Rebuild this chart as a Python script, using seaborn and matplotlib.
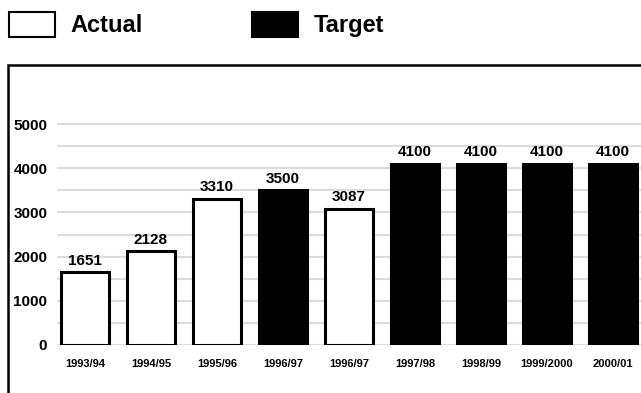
import matplotlib
matplotlib.use("Agg")
import matplotlib.pyplot as plt
import matplotlib.patches as mpatches
import pandas as pd
import seaborn as sns

# Yearly figures: actual outturn vs. target
years = ["1993/94", "1994/95", "1995/96", "1996/97", "1996/97",
         "1997/98", "1998/99", "1999/2000", "2000/01"]
values = [1651, 2128, 3310, 3500, 3087, 4100, 4100, 4100, 4100]
kinds = ["Actual", "Actual", "Actual", "Target", "Actual",
         "Target", "Target", "Target", "Target"]
y_ticks = [0, 1000, 2000, 3000, 4000, 5000]

sns.set_theme(style="white")
plt.rcParams["font.family"] = ["Liberation Sans", "DejaVu Sans"]
plt.rcParams["font.weight"] = "bold"
plt.rcParams["text.color"] = "black"
plt.rcParams["xtick.color"] = "black"
plt.rcParams["ytick.color"] = "black"

df = pd.DataFrame({"slot": [str(i) for i in range(len(years))],
                   "year": years, "value": values, "kind": kinds})

W, H = 641, 393
fig = plt.figure(figsize=(W / 100, H / 100), dpi=100)

# axes geometry in pixels
ax_left, ax_bottom_px, ax_top_px = 57, 345, 102
ax_right_px = 652.6
ax = fig.add_axes([ax_left / W, (H - ax_bottom_px) / H,
                   (ax_right_px - ax_left) / W, (ax_bottom_px - ax_top_px) / H])

palette = {"Actual": "white", "Target": "black"}
sns.barplot(data=df, x="slot", y="value", hue="kind", palette=palette,
            dodge=False, width=0.73, edgecolor="black", linewidth=2.2,
            legend=False, ax=ax, zorder=3)

ax.set_xlim(-0.424, 8.6)
ax.set_ylim(0, 5500)
ax.set_yticks(y_ticks)
ax.set_yticklabels([str(t) for t in y_ticks], fontsize=11, fontweight="bold")
ax.set_xticks(range(len(years)))
ax.set_xticklabels(years, fontsize=8, fontweight="bold")
ax.tick_params(axis="y", length=0, pad=7, labelcolor="black")
ax.tick_params(axis="x", length=0, pad=10, labelcolor="black")
ax.set_xlabel("")
ax.set_ylabel("")

# light horizontal rules every 500
for yv in range(0, 5001, 500):
    ax.axhline(yv, color="#dcdcdc", lw=1.5, zorder=1)

for s in ax.spines.values():
    s.set_visible(False)

# value labels above each bar
for i, v in enumerate(values):
    ax.text(i, v + 100, str(v), ha="center", va="bottom",
            fontsize=11, fontweight="bold", color="black")

# outer frame (left and top edges visible)
frame = mpatches.Rectangle((8 / W, -0.2), 1.2, (H - 65) / H + 0.2,
                           transform=fig.transFigure, fill=False,
                           edgecolor="black", lw=1.8, zorder=10)
fig.patches.append(frame)

# legend
handles = [mpatches.Patch(facecolor="white", edgecolor="black", lw=1.5, label="Actual"),
           mpatches.Patch(facecolor="black", edgecolor="black", lw=1.5, label="Target")]
fig.legend(handles=handles, loc="upper left",
           bbox_to_anchor=(9 / W, 1 - 12 / H), ncol=2, frameon=False,
           prop={"size": 17, "weight": "bold"},
           handlelength=1.95, handleheight=1.25, handletextpad=0.64,
           columnspacing=4.66, borderpad=0, borderaxespad=0)

fig.savefig("out.png", dpi=100)
